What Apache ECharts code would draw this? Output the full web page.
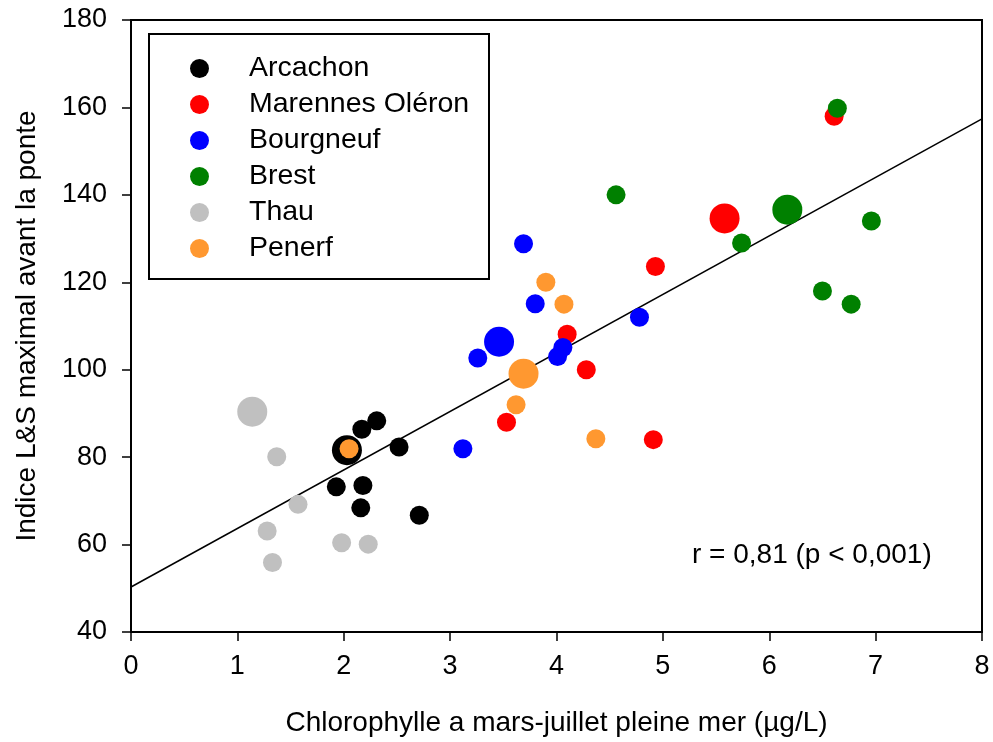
<!DOCTYPE html>
<html>
<head>
<meta charset="utf-8">
<script src="https://cdn.jsdelivr.net/npm/echarts@6/dist/echarts.min.js"></script>
<style>
  html, body { margin: 0; padding: 0; background: #fff; }
  #chart { width: 993px; height: 742px; }
</style>
</head>
<body>
<div id="chart"></div>
<script>
// Chlorophyll a (March–July, high tide) vs maximal L&S index before spawning, by site.
// Each point: [chlorophyll µg/L, index, big] where big = 1 marks the larger marker.
var sites = ['Arcachon', 'Marennes Oléron', 'Bourgneuf', 'Brest', 'Thau', 'Penerf'];
var siteColors = ['#000000', '#ff0000', '#0000ff', '#008000', '#c0c0c0', '#ff9830'];

var arcachon = [[2.03, 81.6, 1], [2.17, 86.4, 0], [2.31, 88.3, 0], [2.52, 82.3, 0],
                [1.93, 73.2, 0], [2.18, 73.5, 0], [2.16, 68.4, 0], [2.71, 66.7, 0]];
var marennes = [[6.61, 158.0, 0], [5.58, 134.6, 1], [4.93, 123.6, 0], [4.10, 108.1, 0],
                [4.28, 100.0, 0], [3.53, 88.0, 0], [4.91, 84.0, 0]];
var bourgneuf = [[3.69, 128.8, 0], [3.80, 115.1, 0], [4.78, 112.0, 0], [3.46, 106.4, 1],
                 [4.06, 105.1, 0], [4.01, 103.0, 0], [3.26, 102.7, 0], [3.12, 81.9, 0]];
var brest = [[6.64, 159.8, 0], [4.56, 140.0, 0], [6.17, 136.6, 1], [6.96, 134.0, 0],
             [5.74, 129.0, 0], [6.50, 118.0, 0], [6.77, 115.0, 0]];
var thau = [[1.14, 90.4, 1], [1.37, 80.1, 0], [1.57, 69.2, 0], [1.28, 63.1, 0],
            [1.33, 55.9, 0], [1.98, 60.4, 0], [2.23, 60.1, 0]];
var penerf = [[3.90, 120.0, 0], [4.07, 115.0, 0], [3.69, 99.1, 1], [3.62, 92.0, 0],
              [4.37, 84.2, 0], [2.05, 81.9, 0]];

// Regression line end points
var fitLine = [[0, 50.3], [8, 157.4]];

var xTicks = [0, 1, 2, 3, 4, 5, 6, 7, 8];
var yTicks = [40, 60, 80, 100, 120, 140, 160, 180];

var siteData = [arcachon, marennes, bourgneuf, brest, thau, penerf];
var FONT = 'Liberation Sans, Arial, sans-serif';

var series = [{
  type: 'line',
  data: fitLine,
  symbol: 'none',
  silent: true,
  z: 1,
  lineStyle: { color: '#000', width: 1.5 }
}];
siteData.forEach(function (d, i) {
  series.push({
    name: sites[i],
    type: 'scatter',
    data: d,
    z: 2 + i,
    symbol: 'circle',
    symbolSize: function (v) { return v[2] ? 30 : 19; },
    itemStyle: { color: siteColors[i], opacity: 1 }
  });
});

var chart = echarts.init(document.getElementById('chart'), null, { renderer: 'canvas' });
chart.setOption({
  animation: false,
  backgroundColor: '#fff',
  color: siteColors,
  grid: {
    left: 131, right: 11, top: 20, bottom: 110,
    show: true, borderColor: '#000', borderWidth: 2, backgroundColor: 'transparent'
  },
  xAxis: {
    type: 'value',
    min: xTicks[0], max: xTicks[xTicks.length - 1], interval: 1,
    name: 'Chlorophylle a mars-juillet pleine mer (µg/L)',
    nameLocation: 'middle', nameGap: 77,
    nameTextStyle: { fontFamily: FONT, fontSize: 28, color: '#000' },
    axisLine: { lineStyle: { color: '#000', width: 2 } },
    axisTick: { show: true, inside: false, length: 9, lineStyle: { color: '#000', width: 1.5 } },
    axisLabel: { margin: 21, fontFamily: FONT, fontSize: 27, color: '#000' },
    splitLine: { show: false }
  },
  yAxis: {
    type: 'value',
    min: yTicks[0], max: yTicks[yTicks.length - 1], interval: 20,
    name: 'Indice L&S maximal avant la ponte',
    nameLocation: 'middle', nameGap: 90,
    nameTextStyle: { fontFamily: FONT, fontSize: 28, color: '#000' },
    axisLine: { lineStyle: { color: '#000', width: 2 } },
    axisTick: { show: true, inside: false, length: 9, lineStyle: { color: '#000', width: 1.5 } },
    axisLabel: { margin: 24, fontFamily: FONT, fontSize: 27, color: '#000' },
    splitLine: { show: false }
  },
  legend: {
    data: sites,
    orient: 'vertical',
    left: 190, top: 54,
    padding: 0,
    itemGap: 7.0,
    itemWidth: 19, itemHeight: 19,
    icon: 'circle',
    textStyle: { fontFamily: FONT, fontSize: 28.5, color: '#000', padding: [0, 0, 0, 35] }
  },
  graphic: [
    {
      type: 'rect',
      shape: { x: 149, y: 34, width: 340, height: 245 },
      style: { fill: 'none', stroke: '#000', lineWidth: 2 },
      z: 0
    },
    {
      type: 'text',
      left: 692, top: 541,
      style: { text: 'r = 0,81 (p < 0,001)', fontFamily: FONT, fontSize: 28, fill: '#000' },
      z: 10
    }
  ],
  series: series
});
</script>
</body>
</html>
